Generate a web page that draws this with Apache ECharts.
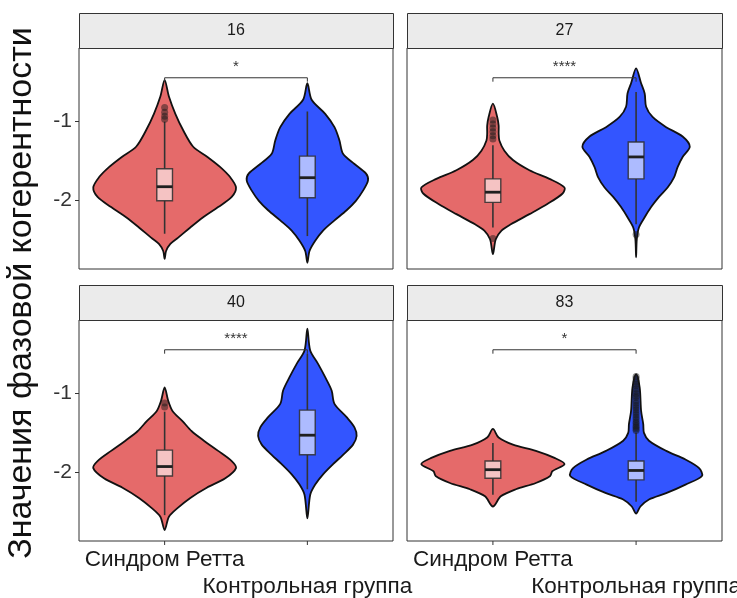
<!DOCTYPE html>
<html>
<head>
<meta charset="utf-8">
<script src="https://cdn.jsdelivr.net/npm/echarts@6/dist/echarts.min.js"></script>
<style>
  html, body { margin: 0; padding: 0; background: #ffffff; }
  #chart { width: 737px; height: 598px; }
</style>
</head>
<body>
<div id="chart"></div>
<script>
// Facets (channel numbers) and groups
const facets = ['16', '27', '40', '83'];
const groups = ['Синдром Ретта', 'Контрольная группа'];
const yTicks = [-1, -2];
const yTitle = 'Значения фазовой когерентности';

// Violin outlines: [value, relative density]
const violin16Rett = [[-0.47,0],[-0.68,0.06],[-0.90,0.15],[-1.11,0.26],[-1.32,0.40],[-1.45,0.60],[-1.58,0.78],[-1.71,0.92],[-1.84,1.0],[-1.96,0.94],[-2.09,0.75],[-2.22,0.54],[-2.35,0.36],[-2.48,0.19],[-2.56,0.08],[-2.65,0.02],[-2.75,0]];
const violin16Ctrl = [[-0.51,0],[-0.72,0.06],[-0.90,0.25],[-1.07,0.38],[-1.24,0.45],[-1.41,0.50],[-1.54,0.66],[-1.66,0.82],[-1.75,0.85],[-1.88,0.78],[-2.01,0.68],[-2.13,0.55],[-2.26,0.38],[-2.39,0.22],[-2.52,0.11],[-2.65,0.03],[-2.80,0]];
const violin27Rett = [[-0.77,0],[-0.94,0.06],[-1.05,0.08],[-1.15,0.08],[-1.24,0.09],[-1.37,0.16],[-1.49,0.28],[-1.62,0.51],[-1.73,0.79],[-1.84,1.0],[-1.92,0.97],[-2.05,0.76],[-2.18,0.51],[-2.31,0.25],[-2.39,0.12],[-2.50,0.04],[-2.69,0]];
const violin27Ctrl = [[-0.32,0],[-0.51,0.07],[-0.64,0.12],[-0.81,0.14],[-0.94,0.23],[-1.07,0.42],[-1.19,0.65],[-1.32,0.75],[-1.45,0.65],[-1.58,0.58],[-1.71,0.53],[-1.84,0.44],[-1.96,0.32],[-2.09,0.21],[-2.22,0.12],[-2.35,0.04],[-2.50,0.01],[-2.73,0]];
const violin40Rett = [[-0.92,0],[-1.09,0.05],[-1.22,0.11],[-1.35,0.25],[-1.48,0.38],[-1.60,0.55],[-1.73,0.75],[-1.86,0.94],[-1.95,1.0],[-2.08,0.85],[-2.20,0.59],[-2.33,0.36],[-2.46,0.18],[-2.57,0.06],[-2.74,0]];
const violin40Ctrl = [[-0.17,0],[-0.45,0.04],[-0.62,0.15],[-0.79,0.25],[-0.96,0.34],[-1.13,0.38],[-1.30,0.55],[-1.43,0.66],[-1.54,0.69],[-1.65,0.64],[-1.78,0.50],[-1.90,0.36],[-2.03,0.22],[-2.16,0.11],[-2.29,0.04],[-2.59,0]];
const violin83Rett = [[-1.45,0],[-1.56,0.08],[-1.65,0.28],[-1.73,0.60],[-1.82,0.86],[-1.90,1.0],[-1.99,0.83],[-2.05,0.80],[-2.14,0.60],[-2.22,0.32],[-2.31,0.11],[-2.44,0]];
const violin83Ctrl = [[-0.75,0],[-0.92,0.05],[-1.22,0.07],[-1.39,0.10],[-1.50,0.11],[-1.60,0.18],[-1.73,0.42],[-1.84,0.69],[-1.95,0.88],[-2.05,0.92],[-2.16,0.69],[-2.27,0.42],[-2.35,0.18],[-2.44,0.06],[-2.53,0]];

// Box statistics: [lower whisker, Q1, median, Q3, upper whisker]
const box16Rett = [-2.43, -2.01, -1.83, -1.60, -1.00];
const box16Ctrl = [-2.46, -1.97, -1.715, -1.44, -0.87];
const box27Rett = [-2.35, -2.03, -1.90, -1.73, -1.30];
const box27Ctrl = [-2.31, -1.73, -1.45, -1.26, -0.62];
const box40Rett = [-2.55, -2.05, -1.93, -1.72, -1.23];
const box40Ctrl = [-2.22, -1.78, -1.53, -1.21, -0.49];
const box83Rett = [-2.29, -2.08, -1.97, -1.86, -1.63];
const box83Ctrl = [-2.38, -2.10, -1.98, -1.86, -1.50];

// Outlying observations
const out16Rett = [-0.82, -0.88, -0.93, -0.97];
const out16Ctrl = [];
const out27Rett = [-0.98, -1.03, -1.08, -1.13, -1.18, -1.22, -2.49];
const out27Ctrl = [-2.44];
const out40Rett = [-1.12, -1.17];
const out40Ctrl = [];
const out83Rett = [];
const out83Ctrl = [-0.78, -0.81, -0.85, -0.88, -0.90, -0.94, -0.97, -1.00, -1.03, -1.05, -1.09, -1.12, -1.15, -1.18, -1.21, -1.24, -1.27, -1.30, -1.33, -1.36, -1.38, -1.41, -1.43, -1.45, -1.47];

// Significance of the group comparison per facet
const signifLabels = ['*', '****', '****', '*'];
const bracketLevel = [-0.44, -0.44, -0.44, -0.44];

const violins = [[violin16Rett, violin16Ctrl], [violin27Rett, violin27Ctrl], [violin40Rett, violin40Ctrl], [violin83Rett, violin83Ctrl]];
const boxes = [[box16Rett, box16Ctrl], [box27Rett, box27Ctrl], [box40Rett, box40Ctrl], [box83Rett, box83Ctrl]];
const outliers = [[out16Rett, out16Ctrl], [out27Rett, out27Ctrl], [out40Rett, out40Ctrl], [out83Rett, out83Ctrl]];

// Styling and layout
const FILLS = ['#E56A6A', '#3355FF'];
const VIOLIN_HALF = 0.5;   // half-width (category units) at relative density 1
const BOX_HALF = 0.055;
const Y_MIN = -2.88, Y_MAX = -0.06;
const FONT = '"Liberation Sans", Arial, Helvetica, sans-serif';
const panels = [
  { left: 79,  top: 48,  width: 314, height: 221 },
  { left: 407, top: 48,  width: 315, height: 221 },
  { left: 79,  top: 320, width: 314, height: 221 },
  { left: 407, top: 320, width: 315, height: 221 }
];
const STRIP_H = 35;

function violinRender(profile, xc, fill) {
  return function (params, api) {
    if (params.dataIndex !== 0) return null;
    const right = profile.map(p => api.coord([xc + p[1] * VIOLIN_HALF, p[0]]));
    const left = profile.slice(1, -1).reverse().map(p => api.coord([xc - p[1] * VIOLIN_HALF, p[0]]));
    return {
      type: 'polygon',
      shape: { points: right.concat(left), smooth: 0.3 },
      style: { fill: fill, stroke: '#111111', lineWidth: 1.8 }
    };
  };
}

function boxRender(stats, xc) {
  return function (params, api) {
    if (params.dataIndex !== 0) return null;
    const [lo, q1, med, q3, hi] = stats;
    const tl = api.coord([xc - BOX_HALF, q3]);
    const br = api.coord([xc + BOX_HALF, q1]);
    const pLo = api.coord([xc, lo]), pQ1 = api.coord([xc, q1]);
    const pQ3 = api.coord([xc, q3]), pHi = api.coord([xc, hi]);
    const mL = api.coord([xc - BOX_HALF, med]), mR = api.coord([xc + BOX_HALF, med]);
    const lineStyle = { stroke: '#333333', lineWidth: 1.6 };
    return {
      type: 'group',
      children: [
        { type: 'line', shape: { x1: pQ3[0], y1: pQ3[1], x2: pHi[0], y2: pHi[1] }, style: lineStyle },
        { type: 'line', shape: { x1: pQ1[0], y1: pQ1[1], x2: pLo[0], y2: pLo[1] }, style: lineStyle },
        { type: 'rect', shape: { x: tl[0], y: tl[1], width: br[0] - tl[0], height: br[1] - tl[1] },
          style: { fill: 'rgba(255,255,255,0.6)', stroke: 'rgba(45,45,45,0.85)', lineWidth: 1.4 } },
        { type: 'line', shape: { x1: mL[0], y1: mL[1], x2: mR[0], y2: mR[1] },
          style: { stroke: '#1f1f1f', lineWidth: 2.8 } }
      ]
    };
  };
}

function bracketRender(level, label) {
  return function (params, api) {
    if (params.dataIndex !== 0) return null;
    const tip = 0.05;
    const a = api.coord([1, level - tip]), b = api.coord([1, level]);
    const c = api.coord([2, level]), d = api.coord([2, level - tip]);
    return {
      type: 'group',
      children: [
        { type: 'polyline', shape: { points: [a, b, c, d] }, style: { stroke: '#333333', lineWidth: 1, fill: null } },
        { type: 'text', style: { x: (b[0] + c[0]) / 2, y: b[1] - 3, text: label, textAlign: 'center', textVerticalAlign: 'bottom',
          font: '15px ' + FONT, fill: '#333333' } }
      ]
    };
  };
}

// Category ticks and dodged group labels below a bottom panel
function groupAxisRender(params, api) {
  if (params.dataIndex !== 0) return null;
  const children = [];
  groups.forEach((g, gi) => {
    const pt = api.coord([gi + 1, Y_MIN]);
    children.push({ type: 'line', shape: { x1: pt[0], y1: pt[1], x2: pt[0], y2: pt[1] + 4 },
      style: { stroke: '#333333', lineWidth: 1 } });
    children.push({ type: 'text', style: { x: pt[0], y: pt[1] + 7 + gi * 27, text: g, textAlign: 'center',
      textVerticalAlign: 'top', font: '22.5px ' + FONT, fill: '#1a1a1a' } });
  });
  return { type: 'group', children: children };
}

const grids = [], xAxes = [], yAxes = [], series = [], graphics = [];

facets.forEach((name, f) => {
  const p = panels[f];
  const isBottom = f >= 2, isLeft = f % 2 === 0;
  grids.push({ left: p.left, top: p.top, width: p.width, height: p.height, show: true,
    outerBoundsMode: 'none', containLabel: false,
    borderColor: '#333333', borderWidth: 1, backgroundColor: 'transparent' });
  xAxes.push({
    gridIndex: f, type: 'value', min: 0.4, max: 2.6,
    splitLine: { show: false }, axisLine: { show: false, onZero: false },
    axisTick: { show: false }, axisLabel: { show: false }
  });
  yAxes.push({
    gridIndex: f, type: 'value', min: Y_MIN, max: Y_MAX,
    splitLine: { show: false }, axisLine: { show: false, onZero: false },
    axisTick: { show: isLeft, customValues: yTicks, length: 4, lineStyle: { color: '#333333' } },
    axisLabel: { show: isLeft, customValues: yTicks, margin: 7, fontSize: 21, fontFamily: FONT, color: '#333333' }
  });

  groups.forEach((g, gi) => {
    const xc = gi + 1;
    const prof = violins[f][gi];
    series.push({ type: 'custom', name: g, xAxisIndex: f, yAxisIndex: f, z: 2,
      data: prof.map(r => [xc, r[0], r[1]]), encode: { x: 0, y: 1 },
      renderItem: violinRender(prof, xc, FILLS[gi]) });
    const st = boxes[f][gi];
    series.push({ type: 'custom', xAxisIndex: f, yAxisIndex: f, z: 3,
      data: st.map(v => [xc, v]), encode: { x: 0, y: 1 },
      renderItem: boxRender(st, xc) });
    series.push({ type: 'scatter', xAxisIndex: f, yAxisIndex: f, z: 4,
      data: outliers[f][gi].map(v => [xc, v]), symbolSize: 7,
      itemStyle: { color: 'rgba(25,25,25,0.6)' }, silent: true });
  });

  series.push({ type: 'custom', xAxisIndex: f, yAxisIndex: f, z: 5,
    data: [[1, bracketLevel[f]], [2, bracketLevel[f]]], encode: { x: 0, y: 1 },
    renderItem: bracketRender(bracketLevel[f], signifLabels[f]) });

  if (isBottom) {
    series.push({ type: 'custom', xAxisIndex: f, yAxisIndex: f, z: 5, clip: false,
      data: groups.map((g, gi) => [gi + 1, Y_MIN]), encode: { x: 0, y: 1 },
      renderItem: groupAxisRender });
  }

  // facet strip
  graphics.push({ type: 'rect', left: p.left, top: p.top - STRIP_H, z: 10,
    shape: { width: p.width, height: STRIP_H },
    style: { fill: '#EBEBEB', stroke: '#333333', lineWidth: 1 } });
  graphics.push({ type: 'text', x: p.left + p.width / 2, y: p.top - STRIP_H / 2, z: 11,
    style: { text: name, font: '16px ' + FONT, fill: '#1a1a1a', textAlign: 'center', textVerticalAlign: 'middle' } });
});

graphics.push({ type: 'text', x: 22, y: 293, rotation: Math.PI / 2, z: 11,
  style: { text: yTitle, font: '34px ' + FONT, fill: '#111111', textAlign: 'center', textVerticalAlign: 'middle' } });

const chart = echarts.init(document.getElementById('chart'), null, { renderer: 'canvas' });
chart.setOption({
  backgroundColor: '#ffffff',
  animation: false,
  grid: grids,
  xAxis: xAxes,
  yAxis: yAxes,
  series: series,
  graphic: graphics
});
</script>
</body>
</html>
